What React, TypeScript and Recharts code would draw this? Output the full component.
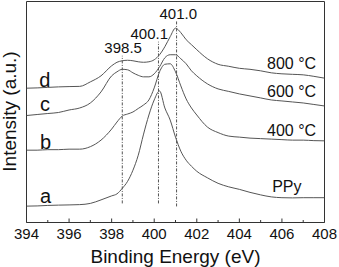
import React from 'react';
import { LineChart, Line, XAxis, YAxis, ReferenceLine, ReferenceArea, ReferenceDot } from 'recharts';

// binding energy grid (eV), finer around the N 1s peaks
const energy = [
  394, 394.5, 395, 395.5, 396, 396.5, 397, 397.5, 398,
  398.25, 398.5, 398.75, 399, 399.25, 399.5, 399.75, 400, 400.25, 400.5, 400.75,
  401, 401.25, 401.5, 401.75, 402,
  402.5, 403, 403.5, 404, 404.5, 405, 405.5, 406, 406.5, 407, 407.5, 408,
];

// intensities (a.u., stacked with offsets as in the figure)
const ppy = [
  16.3, 16.5, 17, 17.3, 17.5, 17.8, 19, 22.5, 26.5,
  28.5, 34, 41, 52, 67, 88, 107, 122, 131, 114, 102,
  85, 71, 62, 56, 51,
  44.5, 39, 35.5, 33, 30, 27.5, 25.5, 24.7, 24.5, 24.7, 24.7, 24.7,
];
const t400 = [
  72, 72, 72.5, 72.5, 73, 73, 75.5, 82, 93,
  100, 106, 108, 110, 113.5, 117, 122, 134, 150, 157.5, 158,
  150, 136, 123, 114, 107,
  95, 89.5, 86, 85, 84, 83.5, 83, 82.5, 82, 82, 81.5, 81.3,
];
const t600 = [
  106.5, 107.5, 108.5, 109.5, 112, 114, 119, 130, 146,
  150, 152.5, 152, 149, 146.5, 145, 145, 148, 155, 164, 167,
  167, 163, 158, 151, 146,
  138, 133, 130.5, 128, 126, 124, 122, 121, 120, 119, 117.5, 116,
];
const t800 = [
  133.7, 134, 134.5, 135, 135.3, 135.5, 140, 146, 156,
  159.5, 161, 161.5, 161, 160, 159.5, 160, 162, 167, 175, 185,
  193.5, 189, 182, 177, 172,
  163, 157.5, 155.5, 153.5, 152.5, 151, 149, 148, 147.5, 147, 145.5, 143.7,
];

const xTicks = [394, 395, 396, 397, 398, 399, 400, 401, 402, 403, 404, 405, 406, 407, 408];

const peakEnergies = [398.5, 400.2, 401.05];
const peakLabels = ['398.5', '400.1', '401.0'];
const curveLetters = ['a', 'b', 'c', 'd'];
const curveNames = ['PPy', '400 °C', '600 °C', '800 °C'];

// where the annotations sit (data coordinates)
const peakLineSpan = [[19, 166], [19, 180], [16, 201]];
const peakLabelPos = [[398.54, 168.7], [399.77, 182.7], [401.13, 202.7]];
const letterPos = [[394.63, 19.7], [394.63, 73], [394.63, 110.5], [394.6, 135.3]];
const namePos = [[405.54, 30], [405.3, 86], [405.3, 124.5], [405.3, 152.5]];

const FONT = '"Liberation Sans", Arial, sans-serif';
const INK = '#111';
const FRAME = '#333';
const CURVE = '#555';

const data = energy.map((e, i) => ({ energy: e, a: ppy[i], b: t400[i], c: t600[i], d: t800[i] }));

const renderTick = (props: any) => {
  const { x, y, payload } = props;
  const major = payload.value % 2 === 0;
  return (
    <g>
      <line x1={x} x2={x} y1={y} y2={y - (major ? 4 : 2.5)} stroke={FRAME} />
      {major && (
        <text x={x} y={y + 16} textAnchor="middle" fontSize={15} fontFamily={FONT} fill={INK}>
          {payload.value}
        </text>
      )}
    </g>
  );
};

const renderYTitle = (props: any) => {
  const vb = props.viewBox;
  const x = vb.x + 16;
  const y = vb.y + vb.height / 2 - 0.5;
  return (
    <text
      x={x}
      y={y}
      transform={`rotate(-90, ${x}, ${y})`}
      textAnchor="middle"
      fontSize={19}
      fontFamily={FONT}
      fill={INK}
    >
      Intensity (a.u.)
    </text>
  );
};

const textShape = (txt: string, size: number, anchor: string) => (p: any) => (
  <text x={p.cx} y={p.cy} textAnchor={anchor} fontSize={size} fontFamily={FONT} fill={INK}>
    {txt}
  </text>
);

export default function App() {
  return (
    <div style={{ position: 'absolute', left: 0, top: 0, width: 339, height: 267, background: '#fff' }}>
      <LineChart width={339} height={267} data={data} margin={{ top: 1.5, right: 14.5, bottom: 0, left: 0 }}>
        <XAxis
          dataKey="energy"
          type="number"
          domain={[394, 408]}
          ticks={xTicks}
          interval={0}
          height={44.5}
          axisLine={false}
          tickLine={false}
          tickSize={0}
          tickMargin={0}
          tick={renderTick}
          allowDataOverflow
          label={{ value: 'Binding Energy (eV)', position: 'insideBottom', offset: 4.5, fontSize: 19, fill: INK, fontFamily: FONT }}
        />
        <YAxis
          type="number"
          domain={[0, 220]}
          width={26.5}
          axisLine={false}
          tickLine={false}
          tick={false}
          allowDataOverflow
          label={{ content: renderYTitle }}
        />
        <ReferenceArea x1={394} x2={408} y1={0} y2={220} fill="none" stroke={FRAME} strokeWidth={1} ifOverflow="visible" />
        {peakEnergies.map((e, i) => (
          <ReferenceLine
            key={'pl' + i}
            segment={[{ x: e, y: peakLineSpan[i][0] }, { x: e, y: peakLineSpan[i][1] }]}
            stroke={CURVE}
            strokeWidth={1}
            strokeDasharray="3 1.5 1 1.5"
          />
        ))}
        <Line type="monotone" dataKey="a" stroke={CURVE} strokeWidth={1} dot={false} isAnimationActive={false} />
        <Line type="monotone" dataKey="b" stroke={CURVE} strokeWidth={1} dot={false} isAnimationActive={false} />
        <Line type="monotone" dataKey="c" stroke={CURVE} strokeWidth={1} dot={false} isAnimationActive={false} />
        <Line type="monotone" dataKey="d" stroke={CURVE} strokeWidth={1} dot={false} isAnimationActive={false} />
        {peakLabels.map((t, i) => (
          <ReferenceDot key={'pt' + i} x={peakLabelPos[i][0]} y={peakLabelPos[i][1]} r={0} ifOverflow="visible" shape={textShape(t, 15, 'middle')} />
        ))}
        {curveLetters.map((t, i) => (
          <ReferenceDot key={'cl' + i} x={letterPos[i][0]} y={letterPos[i][1]} r={0} ifOverflow="visible" shape={textShape(t, 20, 'start')} />
        ))}
        {curveNames.map((t, i) => (
          <ReferenceDot key={'cn' + i} x={namePos[i][0]} y={namePos[i][1]} r={0} ifOverflow="visible" shape={textShape(t, 16, 'start')} />
        ))}
      </LineChart>
    </div>
  );
}
